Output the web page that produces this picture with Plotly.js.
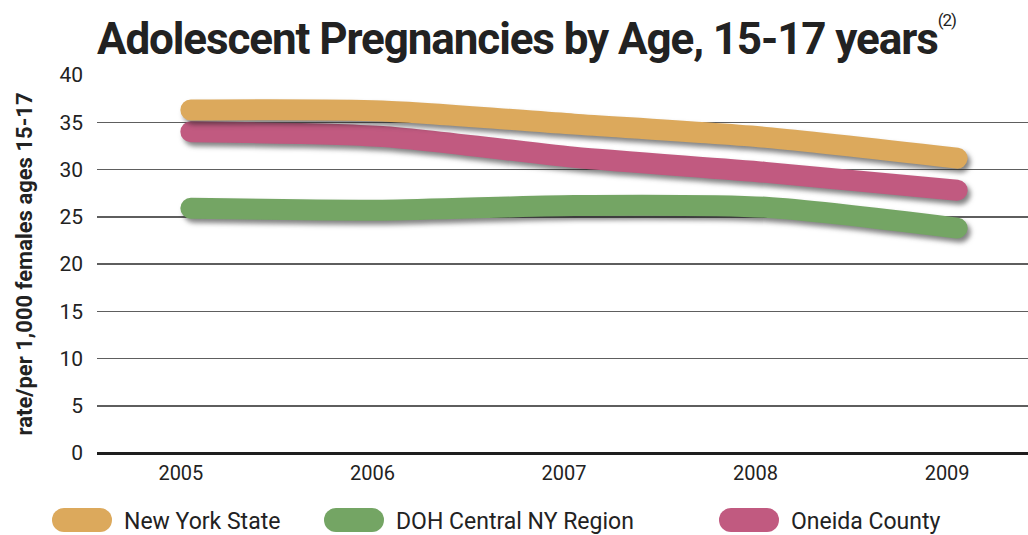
<!DOCTYPE html>
<html><head><meta charset="utf-8">
<script src="https://cdn.plot.ly/plotly-3.0.1.min.js"></script>
<style>
html,body{margin:0;padding:0;background:#fff;}
#chart{width:1028px;height:535px;}
.scatterlayer .trace .js-line{stroke-linecap:round;filter:drop-shadow(3px 4px 2.5px rgba(30,30,30,0.55));}
.legendlines path{stroke-linecap:round;stroke-width:24px !important;d:path("M12,0h36");}
.gtitle{letter-spacing:-1.1px;}
</style></head><body><div id="chart"></div>
<script>
const years = [2005, 2006, 2007, 2008, 2009];
const yearLabels = ['2005', '2006', '2007', '2008', '2009'];
const newYorkState = [36.3, 36.2, 34.8, 33.4, 31.2];
const centralNYRegion = [25.9, 25.7, 26.2, 26.0, 23.8];
const oneidaCounty = [34.0, 33.5, 31.3, 29.7, 27.8];
const seriesNames = ['New York State', 'DOH Central NY Region', 'Oneida County'];
const yTicks = [0, 5, 10, 15, 20, 25, 30, 35, 40];
const colors = ['#DCA95C', '#74A564', '#C15A80'];

const FONT = 'Roboto, "Open Sans", sans-serif';
function mk(y, i, legendId) {
  return {
    x: years, y: y, type: 'scatter', mode: 'lines', name: seriesNames[i],
    line: {color: colors[i], width: 21, shape: 'spline', smoothing: 0.7},
    legend: legendId, showlegend: true
  };
}
const data = [
  mk(centralNYRegion, 1, 'legend2'),
  mk(oneidaCounty, 2, 'legend3'),
  mk(newYorkState, 0, 'legend')
];
const legBase = {orientation: 'h', xref: 'container', yref: 'container', y: 0.028, yanchor: 'middle', xanchor: 'left',
  bgcolor: 'rgba(0,0,0,0)', font: {family: FONT, size: 23, color: '#222'}, itemwidth: 62};
const layout = {
  width: 1028, height: 535,
  margin: {l: 97, r: 0, t: 75, b: 82},
  paper_bgcolor: '#fff', plot_bgcolor: '#fff',
  font: {family: FONT, color: '#222'},
  title: {text: 'Adolescent Pregnancies by Age, 15-17 years<sup><span style="font-size:17px;font-weight:normal;baseline-shift:9px">(2)</span></sup>',
    x: 0.512, xref: 'container', xanchor: 'center', y: 0.928, yref: 'container', yanchor: 'middle',
    font: {family: FONT, size: 44, weight: 'bold', color: '#222'}},
  xaxis: {range: [2004.51, 2009.37], tickvals: years, ticktext: yearLabels, showgrid: false, zeroline: false,
    showline: false, ticks: '', ticklabelshift: -10, ticklabelstandoff: 6,
    tickfont: {family: FONT, size: 20, color: '#222'}, fixedrange: true},
  yaxis: {range: [0, 40], tickvals: yTicks, ticktext: yTicks.map(String), showgrid: true, gridcolor: '#5e5e5e', gridwidth: 1.5,
    zeroline: true, zerolinecolor: '#1e1e1e', zerolinewidth: 3, showline: false, ticks: '', ticklabelstandoff: 13,
    tickfont: {family: FONT, size: 21, color: '#222'},
    title: {text: 'rate/per 1,000 females ages 15-17', standoff: 20, font: {family: FONT, size: 22, weight: 'bold', color: '#222'}},
    automargin: false, fixedrange: true},
  legend: Object.assign({}, legBase, {x: 52 / 1028}),
  legend2: Object.assign({}, legBase, {x: 324 / 1028}),
  legend3: Object.assign({}, legBase, {x: 719 / 1028}),
  showlegend: true
};
Plotly.newPlot('chart', data, layout, {staticPlot: true, displayModeBar: false});
</script></body></html>
